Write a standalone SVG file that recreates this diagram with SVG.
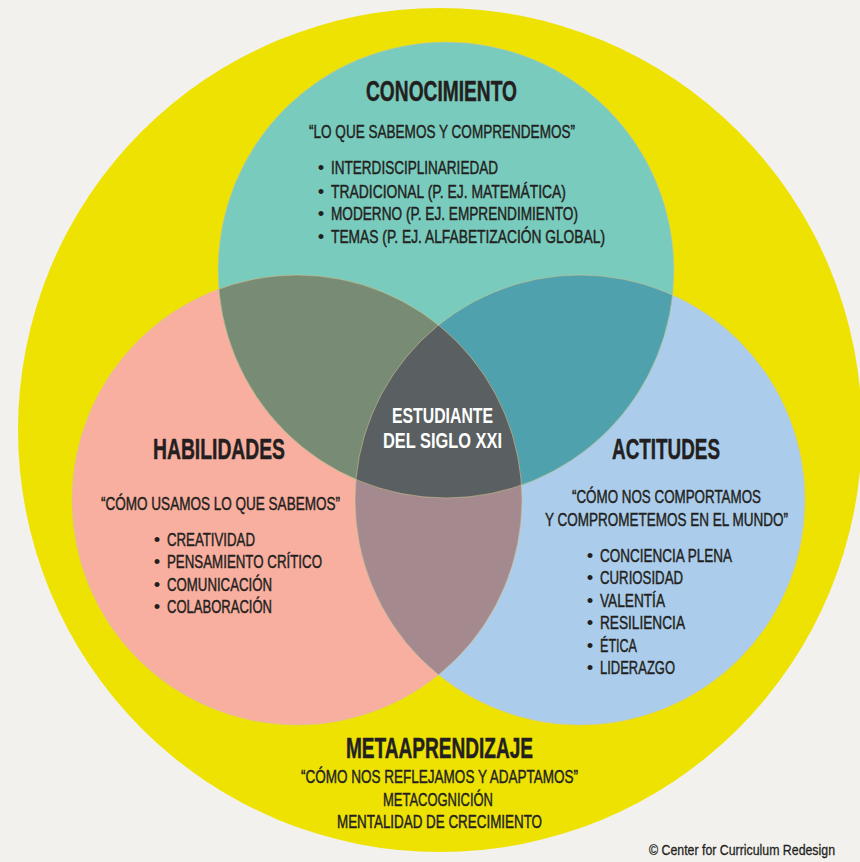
<svg xmlns="http://www.w3.org/2000/svg" width="860" height="862" viewBox="0 0 860 862">
  <style>
    text { font-family: "Liberation Sans", Arial, sans-serif; fill: #231F20; }
    .title { font-weight: bold; font-size: 29px; stroke: #231F20; stroke-width: 0.5; }
    .body { font-size: 18.5px; stroke: #231F20; stroke-width: 0.45; }
    .dot { font-size: 18.5px; text-anchor: middle; }
    .center { font-weight: bold; font-size: 22px; fill: #FFFFFF; }
    .copy { font-size: 15px; stroke: #231F20; stroke-width: 0.3; text-anchor: end; }
    .mid { text-anchor: middle; }
    .edge { fill: none; stroke: #D6C88E; stroke-width: 0.8; stroke-opacity: 0.7; }
  </style>
  <defs>
    <circle id="cT" cx="446" cy="270" r="228"/>
    <circle id="cP" cx="297" cy="500" r="225"/>
    <circle id="cB" cx="580" cy="500" r="225"/>
    <clipPath id="clipT"><use href="#cT"/></clipPath>
    <clipPath id="clipP"><use href="#cP"/></clipPath>
  </defs>

  <!-- background -->
  <rect x="0" y="0" width="860" height="862" fill="#F2F1EE"/>

  <!-- outer yellow circle -->
  <g id="metaaprendizaje">
    <circle cx="440" cy="430" r="422" fill="#EEE203"/>
    <text class="title" x="346" y="758" textLength="187" lengthAdjust="spacingAndGlyphs">METAAPRENDIZAJE</text>
    <text class="body" x="301" y="783" textLength="277" lengthAdjust="spacingAndGlyphs">“CÓMO NOS REFLEJAMOS Y ADAPTAMOS”</text>
    <text class="body" x="383" y="806" textLength="110" lengthAdjust="spacingAndGlyphs">METACOGNICIÓN</text>
    <text class="body" x="337" y="828" textLength="205" lengthAdjust="spacingAndGlyphs">MENTALIDAD DE CRECIMIENTO</text>
  </g>

  <!-- circles and overlaps -->
  <g id="circles">
    <use href="#cP" fill="#F9AF9F"/>
    <use href="#cB" fill="#ABCDEB"/>
    <use href="#cT" fill="#79CBBD"/>
    <use href="#cP" fill="#788B75" clip-path="url(#clipT)"/>
    <use href="#cB" fill="#4FA1AD" clip-path="url(#clipT)"/>
    <use href="#cB" fill="#A48A8F" clip-path="url(#clipP)"/>
    <g clip-path="url(#clipT)">
      <use href="#cB" fill="#5A5F61" clip-path="url(#clipP)"/>
    </g>
    <use href="#cT" class="edge"/>
    <use href="#cP" class="edge"/>
    <use href="#cB" class="edge"/>
  </g>

  <g id="conocimiento">
    <text class="title" x="366" y="101" textLength="151" lengthAdjust="spacingAndGlyphs">CONOCIMIENTO</text>
    <text class="body" x="309" y="138" textLength="266" lengthAdjust="spacingAndGlyphs">“LO QUE SABEMOS Y COMPRENDEMOS”</text>
    <text class="dot" x="321" y="174">•</text>
    <text class="body" x="331" y="174" textLength="167" lengthAdjust="spacingAndGlyphs">INTERDISCIPLINARIEDAD</text>
    <text class="dot" x="321" y="198">•</text>
    <text class="body" x="331" y="198" textLength="235" lengthAdjust="spacingAndGlyphs">TRADICIONAL (P. EJ. MATEMÁTICA)</text>
    <text class="dot" x="321" y="220">•</text>
    <text class="body" x="331" y="220" textLength="247" lengthAdjust="spacingAndGlyphs">MODERNO (P. EJ. EMPRENDIMIENTO)</text>
    <text class="dot" x="321" y="243">•</text>
    <text class="body" x="331" y="243" textLength="274" lengthAdjust="spacingAndGlyphs">TEMAS (P. EJ. ALFABETIZACIÓN GLOBAL)</text>
  </g>

  <g id="habilidades">
    <text class="title" x="153" y="459" textLength="132" lengthAdjust="spacingAndGlyphs">HABILIDADES</text>
    <text class="body" x="101" y="510" textLength="239" lengthAdjust="spacingAndGlyphs">“CÓMO USAMOS LO QUE SABEMOS”</text>
    <text class="dot" x="157" y="546">•</text>
    <text class="body" x="167" y="546" textLength="88" lengthAdjust="spacingAndGlyphs">CREATIVIDAD</text>
    <text class="dot" x="157" y="568">•</text>
    <text class="body" x="167" y="568" textLength="155" lengthAdjust="spacingAndGlyphs">PENSAMIENTO CRÍTICO</text>
    <text class="dot" x="157" y="591">•</text>
    <text class="body" x="167" y="591" textLength="105" lengthAdjust="spacingAndGlyphs">COMUNICACIÓN</text>
    <text class="dot" x="157" y="613">•</text>
    <text class="body" x="167" y="613" textLength="105" lengthAdjust="spacingAndGlyphs">COLABORACIÓN</text>
  </g>

  <g id="actitudes">
    <text class="title" x="612" y="459" textLength="108" lengthAdjust="spacingAndGlyphs">ACTITUDES</text>
    <text class="body mid" x="666.5" y="503" textLength="189" lengthAdjust="spacingAndGlyphs">“CÓMO NOS COMPORTAMOS</text>
    <text class="body mid" x="666.5" y="526" textLength="243" lengthAdjust="spacingAndGlyphs">Y COMPROMETEMOS EN EL MUNDO”</text>
    <text class="dot" x="590" y="562">•</text>
    <text class="body" x="600" y="562" textLength="132" lengthAdjust="spacingAndGlyphs">CONCIENCIA PLENA</text>
    <text class="dot" x="590" y="584">•</text>
    <text class="body" x="600" y="584" textLength="83" lengthAdjust="spacingAndGlyphs">CURIOSIDAD</text>
    <text class="dot" x="590" y="607">•</text>
    <text class="body" x="600" y="607" textLength="65" lengthAdjust="spacingAndGlyphs">VALENTÍA</text>
    <text class="dot" x="590" y="629">•</text>
    <text class="body" x="600" y="629" textLength="85" lengthAdjust="spacingAndGlyphs">RESILIENCIA</text>
    <text class="dot" x="590" y="652">•</text>
    <text class="body" x="600" y="652" textLength="37" lengthAdjust="spacingAndGlyphs">ÉTICA</text>
    <text class="dot" x="590" y="674">•</text>
    <text class="body" x="600" y="674" textLength="75" lengthAdjust="spacingAndGlyphs">LIDERAZGO</text>
  </g>

  <g id="estudiante">
    <text class="center" x="392" y="423" textLength="101" lengthAdjust="spacingAndGlyphs">ESTUDIANTE</text>
    <text class="center" x="383" y="448" textLength="119" lengthAdjust="spacingAndGlyphs">DEL SIGLO XXI</text>
  </g>

  <g id="connectors"/>

  <text class="copy" x="835" y="855" textLength="186" lengthAdjust="spacingAndGlyphs">© Center for Curriculum Redesign</text>
</svg>
